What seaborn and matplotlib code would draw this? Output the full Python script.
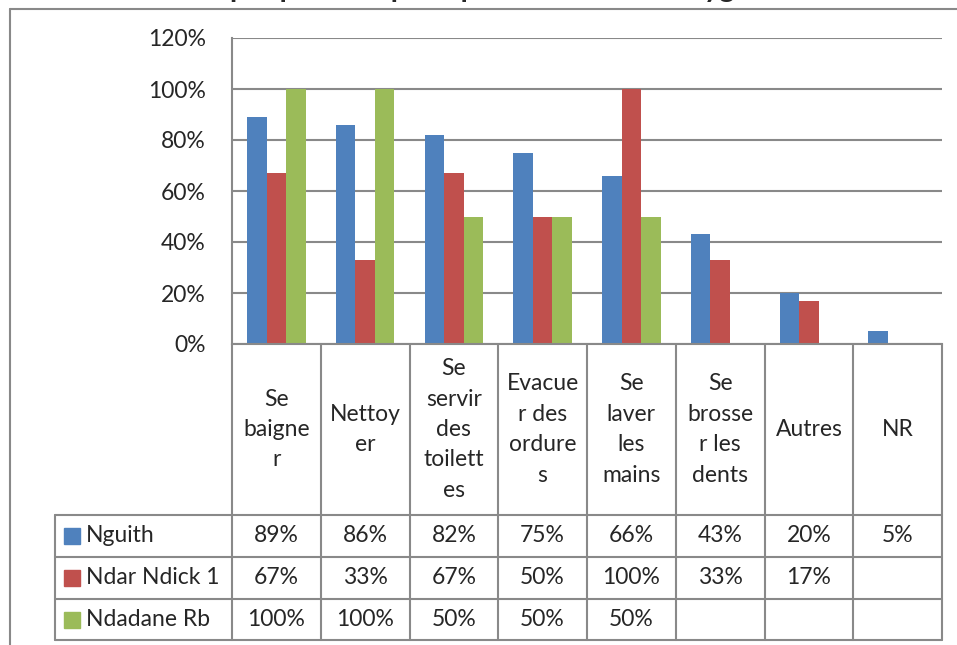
import numpy as np
import pandas as pd
import seaborn as sns
import matplotlib.pyplot as plt
from matplotlib.lines import Line2D
from matplotlib.patches import Rectangle

# data (percent)
categories = ["Se baigner", "Nettoyer", "Se servir des toilettes", "Evacuer des ordures",
              "Se laver les mains", "Se brosser les dents", "Autres", "NR"]
cat_labels = ["Se\nbaigne\nr", "Nettoy\ner", "Se\nservir\ndes\ntoilett\nes", "Evacue\nr des\nordure\ns",
              "Se\nlaver\nles\nmains", "Se\nbrosse\nr les\ndents", "Autres", "NR"]
series = ["Nguith", "Ndar Ndick 1", "Ndadane Rb"]
nguith = [89, 86, 82, 75, 66, 43, 20, 5]
ndar_ndick = [67, 33, 67, 50, 100, 33, 17, None]
ndadane = [100, 100, 50, 50, 50, None, None, None]
colors = ["#4F81BD", "#C0504D", "#9BBB59"]
title = "Graphique : Les pratiques en matière d'hygiène"

values = [nguith, ndar_ndick, ndadane]
rows = []
for s, vals in zip(series, values):
    for c, v in zip(categories, vals):
        if v is not None:
            rows.append({"cat": c, "serie": s, "val": v})
df = pd.DataFrame(rows)

sns.set_style("white")
plt.rcParams['font.family'] = ['Lato', 'DejaVu Sans']
FS = 16.5
GRAY = "#898989"

W, H = 957, 645
fig = plt.figure(figsize=(W / 100, H / 100), dpi=100)

# plot area in pixels (image coords)
px_l, px_r, px_t, px_b = 232, 942, 38, 344
ax = fig.add_axes([px_l / W, 1 - px_b / H, (px_r - px_l) / W, (px_b - px_t) / H])
sns.barplot(data=df, x="cat", y="val", hue="serie", order=categories, hue_order=series,
            palette=colors, saturation=1, width=0.66, gap=0, errorbar=None,
            linewidth=0, legend=False, ax=ax)
ax.set_xlim(-0.5, len(categories) - 0.5)
ax.set_ylim(0, 120)
ax.set_yticks(range(0, 121, 20))
ax.set_yticklabels([f"{v}%" for v in range(0, 121, 20)], fontsize=FS)
ax.set_xticks([])
ax.set_xlabel("")
ax.set_ylabel("")
ax.tick_params(axis="y", length=0, pad=19)
ax.grid(axis="y", color=GRAY, lw=1.5)
ax.set_axisbelow(True)
for side in ["top", "right"]:
    ax.spines[side].set_visible(False)
for side in ["left", "bottom"]:
    ax.spines[side].set_color(GRAY)
    ax.spines[side].set_linewidth(1.5)

# overlay in image pixel coords for the data table and frame
ov = fig.add_axes([0, 0, 1, 1], zorder=-1)
ov.set_xlim(0, W)
ov.set_ylim(H, 0)
ov.axis("off")

xs = [ax.transData.transform((k - 0.5, 0))[0] for k in range(len(categories) + 1)]
head_b = 515
row_b = [557, 599, 640]
tab_l = 55


def hline(x0, x1, y):
    ov.add_line(Line2D([x0, x1], [y, y], color=GRAY, lw=1.5))


def vline(x, y0, y1):
    ov.add_line(Line2D([x, x], [y0, y1], color=GRAY, lw=1.5))


for x in xs:
    vline(x, px_b, row_b[-1])
vline(tab_l, head_b, row_b[-1])
hline(tab_l, xs[-1], head_b)
for y in row_b:
    hline(tab_l, xs[-1], y)

for k, lab in enumerate(cat_labels):
    ov.text((xs[k] + xs[k + 1]) / 2, (px_b + head_b) / 2, lab, ha="center", va="center",
            multialignment="center", fontsize=FS, linespacing=1.55)

tops = [head_b] + row_b[:-1]
for r, (s, vals, col) in enumerate(zip(series, values, colors)):
    yc = (tops[r] + row_b[r]) / 2
    ov.add_patch(Rectangle((64, yc - 8), 16, 16, color=col))
    ov.text(86, yc, s, ha="left", va="center", fontsize=FS)
    for k, v in enumerate(vals):
        if v is not None:
            ov.text((xs[k] + xs[k + 1]) / 2, yc, f"{v}%", ha="center", va="center", fontsize=FS)

# chart frame
vline(10, 9, H)
hline(10, W, 9)

# title sits mostly above the visible area, as in the reference
fig.text(486 / W, 1 + 3 / H, title, ha="center", va="baseline", fontsize=21, fontweight="bold")

fig.savefig("out.png", dpi=100)
